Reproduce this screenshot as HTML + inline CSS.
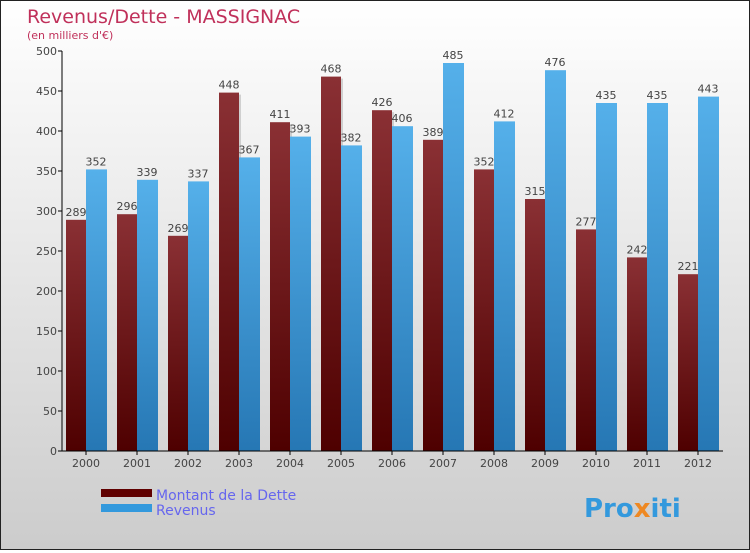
<!DOCTYPE html>
<html><head><meta charset="utf-8"><style>
body{margin:0}
#c{width:748px;height:548px;border:1px solid #222;background:linear-gradient(#fff,#ccc);position:relative;font-family:"DejaVu Sans","Liberation Sans",sans-serif}
text{font-family:"DejaVu Sans","Liberation Sans",sans-serif}
</style></head><body>
<div id="c">
<svg id="s" width="748" height="548">
<defs>
<linearGradient id="gd" x1="0" y1="0" x2="0" y2="1"><stop offset="0" stop-color="#8a3034"/><stop offset="1" stop-color="#4e0000"/></linearGradient>
<linearGradient id="gr" x1="0" y1="0" x2="0" y2="1"><stop offset="0" stop-color="#55b0ea"/><stop offset="1" stop-color="#2677b4"/></linearGradient>
</defs>
<text x="26" y="22" font-size="19" fill="#c0305a">Revenus/Dette - MASSIGNAC</text>
<text x="26" y="38" font-size="11" fill="#c0305a">(en milliers d'€)</text>
<g id="g"></g>
<rect x="100" y="488" width="51" height="8" fill="#600000"/>
<text x="155" y="499" font-size="14" fill="#6666ee">Montant de la Dette</text>
<rect x="100" y="503" width="51" height="8" fill="#3399dd"/>
<text x="155" y="514" font-size="14" fill="#6666ee">Revenus</text>
<text x="583" y="516" font-size="26" font-weight="bold" fill="#3399dd">Pro<tspan fill="#ee8822">x</tspan>iti</text>
</svg></div>
<script>
const years=["2000","2001","2002","2003","2004","2005","2006","2007","2008","2009","2010","2011","2012"];
const dette=[289,296,269,448,411,468,426,389,352,315,277,242,221];
const revenus=[352,339,337,367,393,382,406,485,412,476,435,435,443];
const ticks=[0,50,100,150,200,250,300,350,400,450,500];
const NS="http://www.w3.org/2000/svg";
const g=document.getElementById('g');
const y=v=>450-v*0.8;
const xc=i=>85+i*51;
function el(t,a){const e=document.createElementNS(NS,t);for(const k in a)e.setAttribute(k,a[k]);g.appendChild(e);return e;}
ticks.forEach(t=>{
 const l=el('line',{x1:57,x2:61,y1:y(t),y2:y(t),stroke:'#000'});
 
 
 const tx=el('text',{x:56,y:y(t)+4,'font-size':11,fill:'#444','text-anchor':'end'});tx.textContent=t;
 
 
});
years.forEach((yr,i)=>{
 const c=xc(i);
 el('rect',{x:c-18,y:y(dette[i])+2,width:20,height:dette[i]*0.8-2,fill:'#999',opacity:0.4});
 const b1=el('rect',{x:c-20,y:y(dette[i]),width:20,height:dette[i]*0.8,fill:'url(#gd)'});
 
 
 const b2=el('rect',{x:c,y:y(revenus[i]),width:21,height:revenus[i]*0.8,fill:'url(#gr)'});
 
 
 const t1=el('text',{x:c-10,y:y(dette[i])-4,'font-size':11,fill:'#444','text-anchor':'middle'});t1.textContent=dette[i];
 
 
 const t2=el('text',{x:c+10,y:y(revenus[i])-4,'font-size':11,fill:'#444','text-anchor':'middle'});t2.textContent=revenus[i];
 
 
 const tk=el('line',{x1:c,x2:c,y1:450,y2:454,stroke:'#000'});
 
 
 const xl=el('text',{x:c,y:466,'font-size':11,fill:'#444','text-anchor':'middle'});xl.textContent=yr;
 
 
});
const ya=el('line',{x1:61,x2:61,y1:50,y2:450,stroke:'#000'});


const xa=el('line',{x1:61,x2:722,y1:450,y2:450,stroke:'#000'});


</script>
</body></html>
